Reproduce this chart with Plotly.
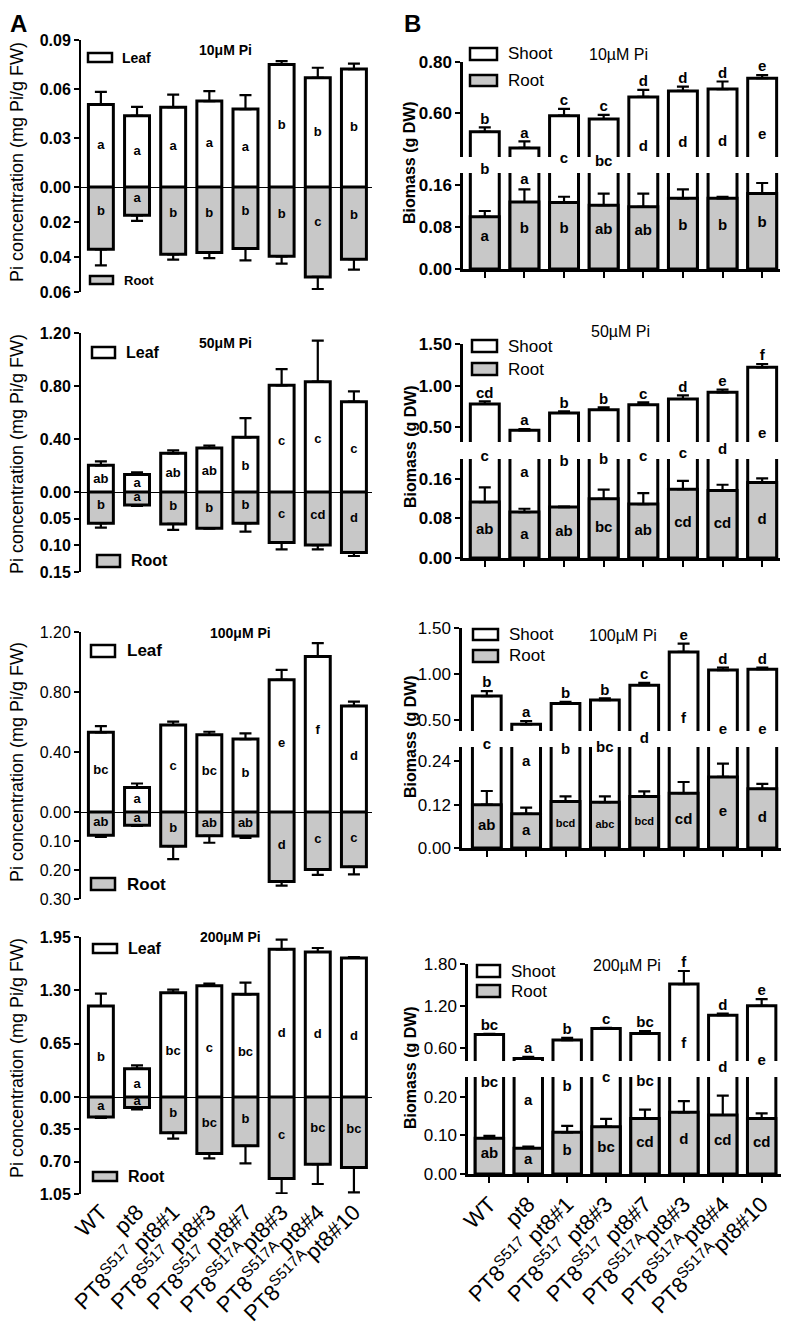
import plotly.graph_objects as go

# ---------------- data ----------------
genotypes = ["WT", "pt8", "PT8S517 pt8#1", "PT8S517 pt8#3", "PT8S517 pt8#7",
             "PT8S517A pt8#3", "PT8S517A pt8#4", "PT8S517A pt8#10"]
tick_labels = ["WT", "pt8",
               "PT8<sup>S517</sup> pt8#1",
               "PT8<sup>S517</sup> pt8#3",
               "PT8<sup>S517</sup> pt8#7",
               "PT8<sup>S517A</sup>pt8#3",
               "PT8<sup>S517A</sup>pt8#4",
               "PT8<sup>S517A</sup>pt8#10"]

# Panel A: Pi concentration (mg Pi/g FW)
a10_leaf = [0.0505, 0.0436, 0.0489, 0.0526, 0.0477, 0.0750, 0.0669, 0.0722]
a10_leaf_se = [0.0078, 0.0054, 0.0077, 0.0061, 0.0085, 0.0021, 0.0061, 0.0033]
a10_root = [0.0356, 0.0162, 0.0385, 0.0375, 0.0352, 0.0396, 0.0514, 0.0413]
a10_root_se = [0.0092, 0.0032, 0.0030, 0.0031, 0.0067, 0.0042, 0.0069, 0.0059]
a10_leaf_sig = ["a", "a", "a", "a", "a", "b", "b", "b"]
a10_root_sig = ["b", "a", "b", "b", "b", "b", "c", "b"]

a50_leaf = [0.201, 0.133, 0.292, 0.332, 0.413, 0.805, 0.833, 0.682]
a50_leaf_se = [0.030, 0.015, 0.022, 0.018, 0.145, 0.123, 0.309, 0.078]
a50_root = [0.0586, 0.0246, 0.0599, 0.068, 0.0586, 0.0945, 0.0995, 0.1134]
a50_root_se = [0.0082, 0.0014, 0.0113, 0.0007, 0.0158, 0.0132, 0.0082, 0.0066]
a50_leaf_sig = ["ab", "a", "ab", "ab", "b", "c", "c", "c"]
a50_root_sig = ["b", "a", "b", "b", "b", "c", "cd", "d"]

a100_leaf = [0.531, 0.163, 0.580, 0.515, 0.486, 0.881, 1.037, 0.707]
a100_leaf_se = [0.042, 0.027, 0.022, 0.020, 0.038, 0.067, 0.089, 0.029]
a100_root = [0.080, 0.0457, 0.1177, 0.082, 0.083, 0.240, 0.198, 0.189]
a100_root_se = [0.0057, 0.0023, 0.045, 0.024, 0.006, 0.014, 0.019, 0.026]
a100_leaf_sig = ["bc", "a", "c", "bc", "b", "e", "f", "d"]
a100_root_sig = ["ab", "a", "b", "ab", "ab", "d", "c", "c"]

a200_leaf = [1.109, 0.345, 1.271, 1.357, 1.251, 1.80, 1.767, 1.694]
a200_leaf_se = [0.150, 0.041, 0.037, 0.024, 0.142, 0.117, 0.049, 0.012]
a200_root = [0.216, 0.115, 0.388, 0.612, 0.529, 0.881, 0.727, 0.763]
a200_root_se = [0.011, 0.018, 0.062, 0.053, 0.190, 0.162, 0.215, 0.269]
a200_leaf_sig = ["b", "a", "bc", "c", "bc", "d", "d", "d"]
a200_root_sig = ["a", "a", "b", "bc", "b", "c", "bc", "bc"]

# Panel B: Biomass (g DW)
b10_shoot = [0.5245, 0.461, 0.588, 0.575, 0.662, 0.686, 0.693, 0.736]
b10_shoot_se = [0.0175, 0.026, 0.027, 0.016, 0.028, 0.017, 0.030, 0.012]
b10_root = [0.099, 0.127, 0.126, 0.121, 0.118, 0.134, 0.134, 0.143]
b10_root_se = [0.011, 0.024, 0.011, 0.022, 0.025, 0.017, 0.003, 0.020]
b10_shoot_sig = ["b", "a", "c", "c", "d", "d", "d", "e"]
b10_total_sig = ["b", "a", "c", "bc", "d", "d", "d", "e"]
b10_root_sig = ["a", "b", "b", "ab", "ab", "b", "b", "b"]

b50_shoot = [0.78, 0.464, 0.672, 0.712, 0.772, 0.84, 0.92, 1.22]
b50_shoot_se = [0.032, 0.016, 0.020, 0.028, 0.028, 0.044, 0.032, 0.040]
b50_root = [0.113, 0.0928, 0.1029, 0.1197, 0.109, 0.139, 0.1365, 0.1526]
b50_root_se = [0.0295, 0.0067, 0.0011, 0.0183, 0.022, 0.017, 0.0115, 0.0084]
b50_shoot_sig = ["cd", "a", "b", "b", "c", "d", "e", "f"]
b50_total_sig = ["c", "a", "b", "b", "c", "c", "d", "e"]
b50_root_sig = ["ab", "a", "ab", "bc", "ab", "cd", "cd", "d"]

b100_shoot = [0.76, 0.453, 0.68, 0.717, 0.879, 1.24, 1.043, 1.052]
b100_shoot_se = [0.054, 0.036, 0.019, 0.018, 0.025, 0.09, 0.027, 0.018]
b100_root = [0.12, 0.095, 0.129, 0.127, 0.143, 0.152, 0.197, 0.164]
b100_root_se = [0.038, 0.017, 0.014, 0.016, 0.014, 0.031, 0.037, 0.014]
b100_shoot_sig = ["b", "a", "b", "b", "c", "e", "d", "d"]
b100_total_sig = ["c", "a", "b", "bc", "d", "f", "e", "e"]
b100_root_sig = ["ab", "a", "bcd", "abc", "bcd", "cd", "e", "d"]

b200_shoot = [0.79, 0.447, 0.71, 0.876, 0.804, 1.513, 1.067, 1.20]
b200_shoot_se = [0.010, 0.023, 0.03, 0.010, 0.033, 0.187, 0.023, 0.096]
b200_root = [0.0927, 0.067, 0.108, 0.1227, 0.144, 0.16, 0.153, 0.144]
b200_root_se = [0.006, 0.004, 0.017, 0.020, 0.023, 0.029, 0.050, 0.013]
b200_shoot_sig = ["bc", "a", "b", "c", "bc", "f", "d", "e"]
b200_total_sig = ["bc", "a", "b", "c", "bc", "f", "d", "e"]
b200_root_sig = ["ab", "a", "b", "bc", "cd", "d", "cd", "cd"]

# ---------------- layout helpers ----------------
W, H = 789, 1325
PAGE_OFFSET = 8  # the html body margin shifts the figure by this many pixels
FONT = "Liberation Sans, Arial, sans-serif"
GRAY = "#c8c8c8"
idx = list(range(len(genotypes)))


def px(x):
    return (x - PAGE_OFFSET) / W


def py(y):
    return 1 - (y - PAGE_OFFSET) / H


fig = go.Figure()
layout = {}
shapes = []
annotations = []
counter = [0]


def new_axes(x0, x1, ytop, ybot, xrange, yrange, tickvals, tickfont, xkw, ykw=None):
    counter[0] += 1
    n = counter[0]
    xr = "x" if n == 1 else f"x{n}"
    yr = "y" if n == 1 else f"y{n}"
    xa = dict(domain=[px(x0), px(x1)], range=xrange, anchor=yr, showgrid=False,
              zeroline=False, fixedrange=True, automargin=False)
    xa.update(xkw)
    ya = dict(domain=[py(ybot), py(ytop)], range=yrange, anchor=xr, showgrid=False,
              zeroline=False, showline=True, linecolor="black", linewidth=2,
              ticks="outside", ticklen=5, tickwidth=2, tickcolor="black",
              tickvals=tickvals, ticktext=[f"{v:.2f}" for v in tickvals],
              tickfont=tickfont, fixedrange=True, automargin=False)
    if ykw:
        ya.update(ykw)
    layout["xaxis" if n == 1 else f"xaxis{n}"] = xa
    layout["yaxis" if n == 1 else f"yaxis{n}"] = ya
    return xr, yr


def bar(vals, se, color, xr, yr, width, lw=3):
    fig.add_trace(go.Bar(
        x=idx, y=vals, width=width, xaxis=xr, yaxis=yr, showlegend=False,
        marker=dict(color=color, line=dict(color="black", width=lw)),
        error_y=dict(type="data", array=se, arrayminus=[0] * len(se), symmetric=False,
                     color="black", thickness=2.2, width=6)))


def letters(ys, txt, xr, yr, size, pos="middle center"):
    fig.add_trace(go.Scatter(
        x=idx, y=ys, text=txt, mode="text", textposition=pos, xaxis=xr, yaxis=yr,
        showlegend=False, cliponaxis=False,
        textfont=dict(family=FONT, size=size, color="black", weight="bold")))


def legend_box(x0, x1, y0, y1, fill, label, tx, size, bold):
    shapes.append(dict(type="rect", xref="paper", yref="paper",
                       x0=px(x0), x1=px(x1), y0=py(y1), y1=py(y0),
                       fillcolor=fill, line=dict(color="black", width=2.5)))
    annotations.append(dict(xref="paper", yref="paper", x=px(tx), y=py((y0 + y1) / 2),
                            text=f"<b>{label}</b>" if bold else label, showarrow=False,
                            xanchor="left", yanchor="middle",
                            font=dict(family=FONT, size=size, color="black")))


def text_at(x, y, s, size, angle=0, yanchor="middle"):
    annotations.append(dict(xref="paper", yref="paper", x=px(x), y=py(y), text=s,
                            showarrow=False, xanchor="center", yanchor=yanchor,
                            textangle=angle, font=dict(family=FONT, size=size, color="black")))


TICKLAB_FONT = dict(family=FONT, size=22, color="black")

# ---------------- Panel A ----------------
A_X0, A_X1 = 81, 372
A_XR = [-0.55, 7.5]
a_panels = [
    (a10_leaf, a10_leaf_se, a10_root, a10_root_se, a10_leaf_sig, a10_root_sig,
     40, 187, 292, 0.09, 0.06, [0, 0.03, 0.06, 0.09], [0.02, 0.04, 0.06], True, 0.5, 0.4,
     "10μM Pi", (225, 50), 162,
     ((88, 112, 53, 62), 120, 14), ((90, 113, 276, 284), 122, 13)),
    (a50_leaf, a50_leaf_se, a50_root, a50_root_se, a50_leaf_sig, a50_root_sig,
     333, 492, 572, 1.2, 0.15, [0, 0.4, 0.8, 1.2], [0.05, 0.10, 0.15], True, 0.47, 0.45,
     "50μM Pi", (225, 343), 454,
     ((92, 115, 347, 358), 124, 16), ((97, 120, 555, 567), 129, 16)),
    (a100_leaf, a100_leaf_se, a100_root, a100_root_se, a100_leaf_sig, a100_root_sig,
     632, 812, 899, 1.2, 0.30, [0, 0.4, 0.8, 1.2], [0.10, 0.20, 0.30], False, 0.52, 0.48,
     "100μM Pi", (240, 633), 762,
     ((91, 115, 645, 657), 125, 17), ((91, 115, 878, 890), 125, 17)),
    (a200_leaf, a200_leaf_se, a200_root, a200_root_se, a200_leaf_sig, a200_root_sig,
     937, 1097, 1194, 1.95, 1.05, [0, 0.65, 1.30, 1.95], [0.35, 0.70, 1.05], True, 0.43, 0.47,
     "200μM Pi", (230, 937), 1058,
     ((93, 117, 944, 953), 126, 16), ((93, 117, 1172, 1181), 126, 16)),
]

for k, p in enumerate(a_panels):
    (leaf, leaf_se, root, root_se, lsig, rsig, top, zero, bot, ymax, rmax, tt, rt, bold,
     lf, rf, title, tpos, ycen, leg_leaf, leg_root) = p
    tf = dict(family=FONT, size=16, color="black", weight="bold" if bold else "normal")
    xr, yr = new_axes(A_X0, A_X1, top, zero, A_XR, [0, ymax], tt, tf,
                      dict(showline=True, linecolor="black", linewidth=1, ticks="outside",
                           ticklen=3, tickwidth=1.5, tickcolor="black", tickvals=idx,
                           showticklabels=False))
    bar(leaf, leaf_se, "white", xr, yr, 0.69)
    letters([v * lf for v in leaf], lsig, xr, yr, 13)
    last = k == len(a_panels) - 1
    xkw = dict(showline=False, ticks="", showticklabels=last)
    if last:
        xkw.update(tickvals=idx, ticktext=tick_labels, tickangle=-45, tickfont=TICKLAB_FONT)
    xr2, yr2 = new_axes(A_X0, A_X1, zero, bot, A_XR, [rmax, 0], rt, tf, xkw)
    bar(root, root_se, GRAY, xr2, yr2, 0.69)
    letters([v * rf for v in root], rsig, xr2, yr2, 13)
    text_at(tpos[0], tpos[1], f"<b>{title}</b>", 14)
    text_at(17, ycen, "Pi concentration (mg Pi/g FW)", 18, -90)
    (lx0, lx1, ly0, ly1), ltx, lsz = leg_leaf
    legend_box(lx0, lx1, ly0, ly1, "white", "Leaf", ltx, lsz, True)
    (rx0, rx1, ry0, ry1), rtx, rsz = leg_root
    legend_box(rx0, rx1, ry0, ry1, GRAY, "Root", rtx, rsz, True)

# ---------------- Panel B ----------------
b_panels = [
    (b10_shoot, b10_shoot_se, b10_root, b10_root_se, b10_shoot_sig, b10_total_sig, b10_root_sig,
     463, 780, [-0.55, 7.45], (62, 157, [0.425, 0.80]), (173, 269, 0.182),
     [0.60, 0.80], [0, 0.08, 0.16], True, (0.025, 0.31), 0.6,
     "10µM Pi", (618, 55), 163, (470, 497, 48, 60, 75, 86)),
    (b50_shoot, b50_shoot_se, b50_root, b50_root_se, b50_shoot_sig, b50_total_sig, b50_root_sig,
     463, 780, [-0.55, 7.45], (344, 442, [0.324, 1.50]), (459, 558, 0.20),
     [0.50, 1.00, 1.50], [0, 0.08, 0.16], True, (0.122, 0.105), 0.5,
     "50µM Pi", (620, 332), 447, (472, 497, 340, 352, 363, 375)),
    (b100_shoot, b100_shoot_se, b100_root, b100_root_se, b100_shoot_sig, b100_total_sig, b100_root_sig,
     462, 782, [-0.63, 7.5], (628, 731, [0.381, 1.50]), (747, 848, 0.28),
     [0.50, 1.00, 1.50], [0, 0.12, 0.24], False, (0.17, 0.15), 0.5,
     "100µM Pi", (623, 635), 737, (473, 498, 629, 640, 650, 662)),
    (b200_shoot, b200_shoot_se, b200_root, b200_root_se, b200_shoot_sig, b200_total_sig, b200_root_sig,
     468, 785, [-0.55, 7.6], (964, 1061, [0.41, 1.80]), (1077, 1174, 0.2515),
     [0.60, 1.20, 1.80], [0, 0.10, 0.20], False, (0.127, 0.138), 0.55,
     "200µM Pi", (627, 965), 1068, (477, 500, 965, 977, 985, 997)),
]

for k, p in enumerate(b_panels):
    (shoot, shoot_se, root, root_se, ssig, tsig, rsig, x0, x1, xrng, toppart, botpart,
     tt, bt, bold, (c0, c1), rf, title, tpos, ycen, leg) = p
    tf = dict(family=FONT, size=17, color="black", weight="bold" if bold else "normal")
    ttop, tbot, trange = toppart
    xr, yr = new_axes(x0, x1, ttop, tbot, xrng, trange, tt, tf, dict(visible=False),
                      dict(linewidth=2.5))
    bar(shoot, shoot_se, "white", xr, yr, 0.73)
    letters([v + e for v, e in zip(shoot, shoot_se)], ssig, xr, yr, 15, "top center")
    last = k == len(b_panels) - 1
    btop, bbot, bmax = botpart
    xkw = dict(showline=True, linecolor="black", linewidth=2.5, ticks="outside", ticklen=6,
               tickwidth=2, tickcolor="black", tickvals=idx, showticklabels=last)
    if last:
        xkw.update(ticktext=tick_labels, tickangle=-45, tickfont=TICKLAB_FONT)
    xr2, yr2 = new_axes(x0, x1, btop, bbot, xrng, [0, bmax], bt, tf, xkw, dict(linewidth=2.5))
    bar(shoot, shoot_se, "white", xr2, yr2, 0.73)
    bar(root, root_se, GRAY, xr2, yr2, 0.73)
    rsizes = [15 if len(s) < 3 else 11 for s in rsig]
    fig.add_trace(go.Scatter(
        x=idx, y=[v * rf for v in root], text=rsig, mode="text", xaxis=xr2, yaxis=yr2,
        showlegend=False, cliponaxis=False,
        textfont=dict(family=FONT, size=rsizes, color="black", weight="bold")))
    # invisible full-height axis sharing the lower scale, for letters in the break zone
    full_max = bmax * (bbot - ttop) / (bbot - btop)
    xr3, yr3 = new_axes(x0, x1, ttop, bbot, xrng, [0, full_max], [], tf,
                        dict(visible=False), dict(visible=False))
    letters([c0 + c1 * v for v in shoot], tsig, xr3, yr3, 15)
    text_at(tpos[0], tpos[1], title, 16)
    text_at(410, ycen, "<b>Biomass (g DW)</b>", 16, -90)
    lx0, lx1, sy0, sy1, ry0, ry1 = leg
    legend_box(lx0, lx1, sy0, sy1, "white", "Shoot", lx1 + 9, 17, False)
    legend_box(lx0, lx1, ry0, ry1, GRAY, "Root", lx1 + 9, 17, False)

# panel letters
text_at(18, 8, "<b>A</b>", 24, yanchor="top")
text_at(412, 8, "<b>B</b>", 24, yanchor="top")

fig.update_layout(
    width=W, height=H, margin=dict(l=0, r=0, t=0, b=0, autoexpand=False),
    paper_bgcolor="white", plot_bgcolor="rgba(0,0,0,0)", barmode="overlay",
    font=dict(family=FONT, color="black"),
    shapes=shapes, annotations=annotations, **layout)

fig.write_html("out.html")
